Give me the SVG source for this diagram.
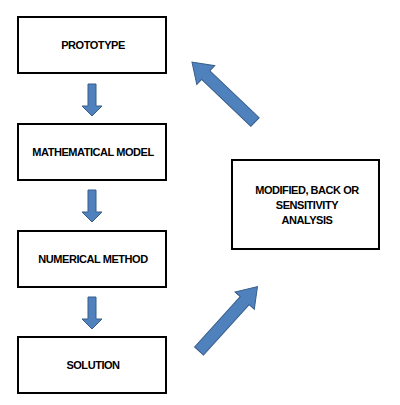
<svg xmlns="http://www.w3.org/2000/svg" width="400" height="405" viewBox="0 0 400 405">
<defs>
<style>
.box{fill:#fff;stroke:#000;stroke-width:2}
.t{font-family:"Liberation Sans",Arial,sans-serif;font-weight:bold;font-size:11px;letter-spacing:-0.45px;text-anchor:middle;fill:#000}
.arr{fill:#4F81BD;stroke:#385D8A;stroke-width:1}
</style>
<path id="down" d="M-4,0 H4 V22 H10 L0,32 L-10,22 H-4 Z"/>
<path id="diag" d="M0,-6 H68 V-13 L87,0 L68,13 V6 H0 Z"/>
</defs>
<rect width="400" height="405" fill="#fff"/>
<g id="prototype"><rect class="box" x="18" y="17" width="148" height="56"/><text class="t" x="93" y="49">PROTOTYPE</text></g>
<g id="math-model"><rect class="box" x="18" y="124" width="148" height="56"/><text class="t" x="93" y="156">MATHEMATICAL MODEL</text></g>
<g id="numerical"><rect class="box" x="18" y="231" width="148" height="56"/><text class="t" x="93" y="263">NUMERICAL METHOD</text></g>
<g id="solution"><rect class="box" x="18" y="337" width="148" height="56"/><text class="t" x="93" y="369">SOLUTION</text></g>
<g id="modified"><rect class="box" x="232" y="160" width="147" height="89"/>
<text class="t" x="307" y="194">MODIFIED, BACK OR</text>
<text class="t" x="307" y="209">SENSITIVITY</text>
<text class="t" x="307" y="224">ANALYSIS</text></g>
<g id="connectors">
<use href="#down" class="arr" transform="translate(92,84)"/>
<use href="#down" class="arr" transform="translate(92,190)"/>
<use href="#down" class="arr" transform="translate(92,297)"/>
<use href="#diag" class="arr" transform="translate(255,122) rotate(-136.4)"/>
<use href="#diag" class="arr" transform="translate(199,351) rotate(-47.8)"/>
</g>
</svg>
